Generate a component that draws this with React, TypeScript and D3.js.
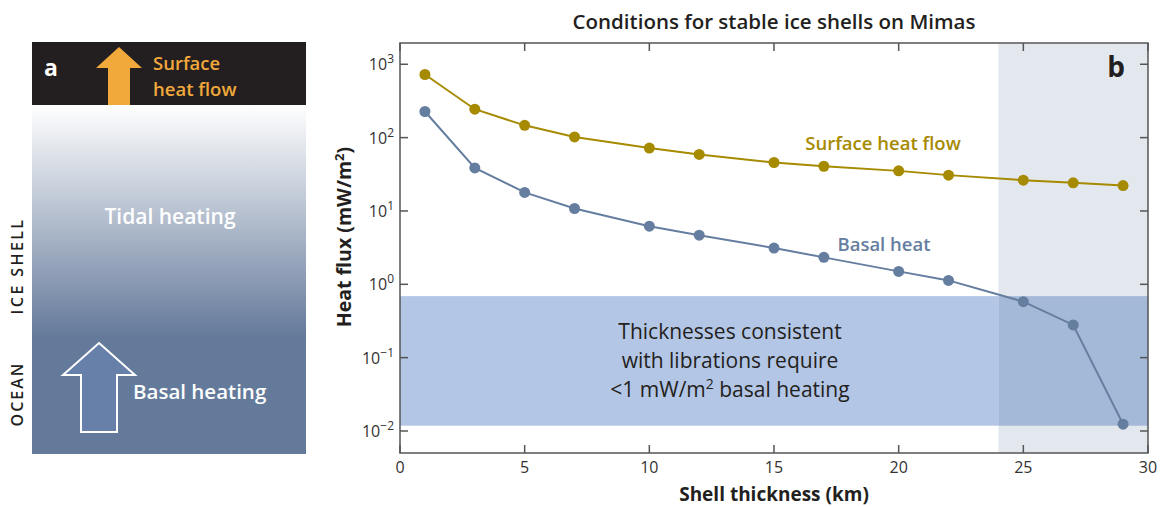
import React from "react";
import * as d3 from "d3";

const thickness = [1, 3, 5, 7, 10, 12, 15, 17, 20, 22, 25, 27, 29];
const surfaceFlow = [725, 244, 147, 102, 72, 59, 45.8, 40.7, 35.2, 30.8, 26.3, 24.2, 22.2];
const basalHeat = [227, 38.6, 17.9, 10.8, 6.2, 4.68, 3.12, 2.33, 1.5, 1.13, 0.58, 0.279, 0.0124];
const xTicks = [0, 5, 10, 15, 20, 25, 30];
const yExponents = [3, 2, 1, 0, -1, -2];
const librationBand = [0.0118, 0.69];
const unstableRange = [24, 30];
const bandText = ["Thicknesses consistent", "with librations require", "<1 mW/m", " basal heating"];

const FONT = "'Open Sans', 'Noto Sans', sans-serif";
const GOLD = "#a68a00";
const BLUE = "#657ea0";

export default function App() {
  const left = 400, right = 1148, top = 43, bottom = 453;
  const x = d3.scaleLinear().domain([0, 30]).range([left, right]);
  const y = d3.scaleLog().domain([Math.pow(10, -2.3), Math.pow(10, 3.29)]).range([bottom, top]);
  const line = d3.line<[number, number]>().x(d => x(d[0])).y(d => y(d[1]));
  const surfPts: [number, number][] = thickness.map((t, i) => [t, surfaceFlow[i]]);
  const basalPts: [number, number][] = thickness.map((t, i) => [t, basalHeat[i]]);

  const bandTop = y(librationBand[1]);
  const bandBot = y(librationBand[0]);
  const gx0 = x(unstableRange[0]);

  return (
    <svg width={1163} height={507} style={{ position: "absolute", left: 0, top: 0, background: "#fff" }} fontFamily={FONT}>
      <defs>
        <linearGradient id="iceGrad" x1="0" y1="0" x2="0" y2="1">
          <stop offset="0" stopColor="#ffffff" />
          <stop offset="1" stopColor="#64799a" />
        </linearGradient>
      </defs>

      {/* Panel a */}
      <rect x={32} y={105} width={274} height={233} fill="url(#iceGrad)" />
      <rect x={32} y={337} width={274} height={117} fill="#637a9b" />
      <rect x={32} y={42} width={274} height={63} fill="#231f20" />
      <text x={44} y={76} fill="#fff" fontSize={23} fontWeight={700}>a</text>
      <path d="M119,47 L142,68 L130,68 L130,105 L108,105 L108,68 L96,68 Z" fill="#f2a93b" />
      <text x={153} y={70} fill="#f2a93b" fontSize={18.5} fontWeight={600}>Surface</text>
      <text x={153} y={95.5} fill="#f2a93b" fontSize={18.5} fontWeight={600}>heat flow</text>
      <text x={170} y={224} fill="#fff" fontSize={21} fontWeight={600} textAnchor="middle">Tidal heating</text>
      <path d="M99,343 L135,375 L117,375 L117,432 L81,432 L81,375 L63,375 Z" fill="#6680aa" stroke="#fff" strokeWidth={2} />
      <text x={133} y={399} fill="#fff" fontSize={20.5} fontWeight={600}>Basal heating</text>
      <text transform="translate(23,266) rotate(-90)" textAnchor="middle" fontSize={16} fontWeight={600} letterSpacing={2.4} fill="#231f20">ICE SHELL</text>
      <text transform="translate(23,394) rotate(-90)" textAnchor="middle" fontSize={16} fontWeight={600} letterSpacing={2} fill="#231f20">OCEAN</text>

      {/* Panel b */}
      <text x={(left + right) / 2} y={29} textAnchor="middle" fontSize={20.5} fontWeight={600} fill="#231f20">Conditions for stable ice shells on Mimas</text>

      <rect x={gx0} y={top} width={right - gx0} height={bottom - top} fill="#e3e8ee" />
      <rect x={left} y={bandTop} width={gx0 - left} height={bandBot - bandTop} fill="#b3c6e5" />
      <rect x={gx0} y={bandTop} width={right - gx0} height={bandBot - bandTop} fill="#a4b8d8" />

      <text x={730} y={339} textAnchor="middle" fontSize={21} fill="#231f20">{bandText[0]}</text>
      <text x={730} y={368} textAnchor="middle" fontSize={21} fill="#231f20">{bandText[1]}</text>
      <text x={730} y={397} textAnchor="middle" fontSize={21} fill="#231f20">
        {bandText[2]}<tspan dy={-8} fontSize={14}>2</tspan><tspan dy={8}>{bandText[3]}</tspan>
      </text>

      {/* frame */}
      <rect x={left} y={top} width={right - left} height={bottom - top} fill="none" stroke="#555" strokeWidth={1.5} />
      {xTicks.map(t => (
        <g key={"xt" + t}>
          <line x1={x(t)} x2={x(t)} y1={bottom} y2={bottom - 8} stroke="#555" strokeWidth={1.5} />
          <line x1={x(t)} x2={x(t)} y1={top} y2={top + 8} stroke="#555" strokeWidth={1.5} />
          <text x={x(t)} y={473} textAnchor="middle" fontSize={16} fill="#333">{t}</text>
        </g>
      ))}
      {yExponents.map(e => {
        const yy = y(Math.pow(10, e));
        return (
          <g key={"yt" + e}>
            <line x1={left} x2={left + 8} y1={yy} y2={yy} stroke="#555" strokeWidth={1.5} />
            <line x1={right} x2={right - 8} y1={yy} y2={yy} stroke="#555" strokeWidth={1.5} />
            <text x={394} y={yy + 6} textAnchor="end" fontSize={16} fill="#333">
              10<tspan dy={-7} fontSize={12}>{e < 0 ? "\u2212" + (-e) : String(e)}</tspan>
            </text>
          </g>
        );
      })}

      <text x={(left + right) / 2} y={501} textAnchor="middle" fontSize={19} fontWeight={700} fill="#231f20">Shell thickness (km)</text>
      <text transform="translate(351,237) rotate(-90)" textAnchor="middle" fontSize={19.5} fontWeight={700} fill="#231f20">
        Heat flux (mW/m<tspan dy={-7} fontSize={13}>2</tspan><tspan dy={7}>)</tspan>
      </text>

      <path d={line(surfPts) || ""} fill="none" stroke={GOLD} strokeWidth={2} />
      {surfPts.map((p, i) => <circle key={"s" + i} cx={x(p[0])} cy={y(p[1])} r={5.5} fill={GOLD} />)}
      <path d={line(basalPts) || ""} fill="none" stroke={BLUE} strokeWidth={2} />
      {basalPts.map((p, i) => <circle key={"b" + i} cx={x(p[0])} cy={y(p[1])} r={5.5} fill={BLUE} />)}

      <text x={883} y={150} textAnchor="middle" fontSize={18.5} fontWeight={600} fill={GOLD}>Surface heat flow</text>
      <text x={884} y={251} textAnchor="middle" fontSize={18.5} fontWeight={600} fill={BLUE}>Basal heat</text>
      <text x={1116} y={77} textAnchor="middle" fontSize={28} fontWeight={700} fill="#231f20">b</text>
    </svg>
  );
}
